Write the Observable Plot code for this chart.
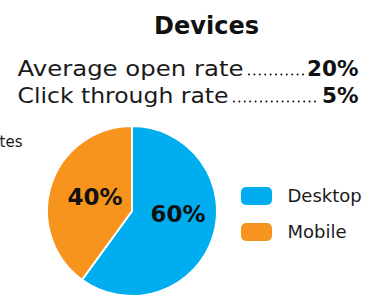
<!DOCTYPE html>
<html><head><meta charset="utf-8">
<script src="https://cdn.jsdelivr.net/npm/d3@7"></script>
<script src="https://cdn.jsdelivr.net/npm/@observablehq/plot@0.6"></script>
<style>
html,body{margin:0;padding:0;background:#fff;}
#chart{width:379px;height:297px;overflow:hidden;}
</style></head><body><div id="chart"></div>
<script>
// ---- data ----
const title = "Devices";
const categories = ["Desktop", "Mobile"];
const shares = [60, 40];
const colors = ["#00AEEF", "#F7941D"];
const metricLabels = ["Average open rate", "Click through rate"];
const metricValues = ["20%", "5%"];
const sideNote = "tes";

// ---- layout ----
const W = 379, H = 297;
const cx = 132, cy = 211, R = 85;
const font = "'DejaVu Sans', sans-serif";
const lineBase = [75, 102];
const labelWidth = [226, 211];
const dotsFrom = [249, 234];
const dotsTo = [304, 320];
const labelNudge = [[5, -10], [3, -1]];

const slices = d3.pie().sort(null).value(d => d.share)(
  categories.map((c, i) => ({category: c, share: shares[i]}))
);
const arc = d3.arc().innerRadius(0).outerRadius(R);
const labelArc = d3.arc().innerRadius(R * 0.5).outerRadius(R * 0.5);
const pieTable = slices.map((s, i) => {
  const [lx, ly] = labelArc.centroid(s);
  return {category: s.data.category, share: s.data.share,
          startAngle: s.startAngle, endAngle: s.endAngle,
          lx: cx + lx + labelNudge[i][0], ly: cy + ly + labelNudge[i][1]};
});
const metrics = metricLabels.map((l, i) => ({label: l, value: metricValues[i], i}));

function pieMark(...args) {
  const scales = args.find(a => a && typeof a.x === "function" && typeof a.color === "function");
  const g = d3.create("svg:g");
  g.selectAll("path").data(pieTable).join("path")
    .attr("transform", `translate(${scales.x(cx)},${scales.y(cy)})`)
    .attr("d", d => arc(d))
    .attr("fill", d => scales.color(d.category))
    .attr("stroke", "#fff").attr("stroke-width", 2).attr("stroke-linejoin", "round");
  return g.node();
}

const chart = Plot.plot({
  width: W, height: H,
  margin: 0,
  style: {fontFamily: font, background: "#fff", color: "#111"},
  x: {domain: [0, W], range: [0, W], axis: null},
  y: {domain: [0, H], range: [0, H], axis: null},
  color: {domain: categories, range: colors},
  marks: [
    Plot.text([title], {x: 206, y: 33, text: d => d, fontSize: 24, fontWeight: 700, lineAnchor: "bottom", textAnchor: "middle", fill: "#111"}),
    Plot.text(metrics, {x: 17, y: d => lineBase[d.i], text: "label", fontSize: 21.5, lineAnchor: "bottom", textAnchor: "start", fill: "#1a1a1a"}),
    Plot.ruleY(metrics, {y: d => lineBase[d.i] - 1, x1: d => dotsFrom[d.i], x2: d => dotsTo[d.i], stroke: "#111", strokeWidth: 2, strokeLinecap: "round", strokeDasharray: "0,5.4"}),
    Plot.text(metrics, {x: 358, y: d => lineBase[d.i], text: "value", fontSize: 21.5, fontWeight: 700, lineAnchor: "bottom", textAnchor: "end", fill: "#111"}),
    Plot.text([sideNote], {x: 22, y: 146, text: d => d, fontSize: 15, lineAnchor: "bottom", textAnchor: "end", fill: "#1a1a1a"}),
    pieMark,
    Plot.text(pieTable, {x: "lx", y: "ly", text: d => d.share + "%", fontSize: 23, fontWeight: 700, fill: "#111"}),
    Plot.rect(categories, {x1: 241, x2: 272, y1: (d, i) => 187 + i * 36, y2: (d, i) => 205 + i * 36, fill: d => d, rx: 5}),
    Plot.text(categories, {x: 287, y: (d, i) => 196 + i * 36, text: d => d, fontSize: 18, textAnchor: "start", fill: "#1a1a1a"})
  ]
});
document.getElementById("chart").appendChild(chart);
d3.select(chart).selectAll("text").each(function () {
  const k = metricLabels.indexOf(this.textContent);
  if (k >= 0) d3.select(this).attr("textLength", labelWidth[k]).attr("lengthAdjust", "spacingAndGlyphs");
});
</script></body></html>
